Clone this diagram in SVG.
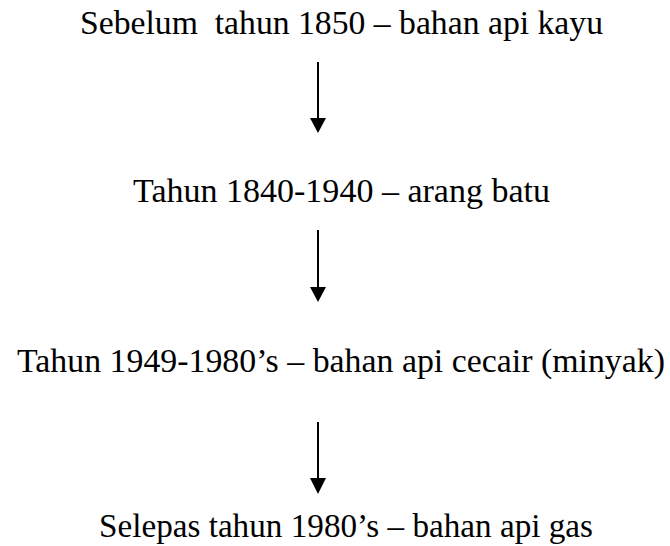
<svg xmlns="http://www.w3.org/2000/svg" width="670" height="546" viewBox="0 0 670 546">
  <style>
    .label { font-family: "Liberation Serif", "DejaVu Serif", serif; font-size: 34px; fill: #000; white-space: pre; }
    .conn line { stroke: #000; stroke-width: 2; }
    .conn polygon { fill: #000; }
  </style>
  <rect width="670" height="546" fill="#fff"/>

  <g id="node-kayu">
    <text class="label" x="80" y="34" textLength="523" lengthAdjust="spacingAndGlyphs" xml:space="preserve">Sebelum  tahun 1850 – bahan api kayu</text>
  </g>
  <g id="node-arang">
    <text class="label" x="133" y="202" textLength="417" lengthAdjust="spacingAndGlyphs">Tahun 1840-1940 – arang batu</text>
  </g>
  <g id="node-minyak">
    <text class="label" x="17" y="372" textLength="648" lengthAdjust="spacingAndGlyphs">Tahun 1949-1980’s – bahan api cecair (minyak)</text>
  </g>
  <g id="node-gas">
    <text class="label" x="99" y="537" textLength="494" lengthAdjust="spacingAndGlyphs">Selepas tahun 1980’s – bahan api gas</text>
  </g>

  <g id="connectors" class="conn">
    <line x1="318" y1="62" x2="318" y2="120"/>
    <polygon points="310,118 326,118 318,133"/>
    <line x1="318" y1="230" x2="318" y2="289"/>
    <polygon points="310,287 326,287 318,302"/>
    <line x1="318" y1="422" x2="318" y2="480"/>
    <polygon points="310,478 326,478 318,494"/>
  </g>
</svg>
